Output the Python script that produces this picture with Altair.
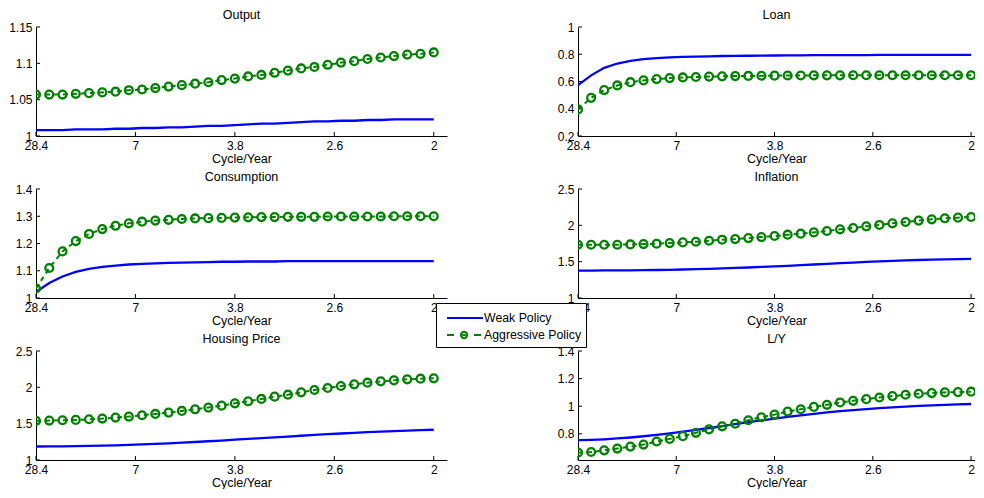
import altair as alt
import pandas as pd

# ---------------- data ----------------
idx = list(range(31))
xtick_pos = [0, 7.5, 15, 22.5, 30]
xtick_labels = ["28.4", "7", "3.8", "2.6", "2"]
series_names = ["Weak Policy", "Aggressive Policy"]

titles = ["Output", "Loan", "Consumption", "Inflation", "Housing Price", "L/Y"]

output_weak = [1.008, 1.008, 1.008, 1.009, 1.009, 1.009, 1.010, 1.010, 1.011, 1.011,
               1.012, 1.012, 1.013, 1.014, 1.014, 1.015, 1.016, 1.017, 1.017, 1.018,
               1.019, 1.020, 1.020, 1.021, 1.021, 1.022, 1.022, 1.023, 1.023, 1.023, 1.023]
output_aggr = [1.057, 1.057, 1.057, 1.058, 1.059, 1.060, 1.061, 1.063, 1.064, 1.066,
               1.068, 1.070, 1.072, 1.074, 1.077, 1.079, 1.082, 1.084, 1.087, 1.090,
               1.093, 1.095, 1.098, 1.101, 1.103, 1.106, 1.108, 1.110, 1.112, 1.113, 1.115]

loan_weak = [0.573, 0.645, 0.700, 0.732, 0.752, 0.764, 0.772, 0.777, 0.780, 0.783,
             0.785, 0.787, 0.788, 0.789, 0.790, 0.791, 0.792, 0.792, 0.793, 0.793,
             0.794, 0.794, 0.794, 0.795, 0.795, 0.795, 0.795, 0.795, 0.795, 0.795, 0.795]
loan_aggr = [0.395, 0.480, 0.537, 0.571, 0.595, 0.608, 0.618, 0.625, 0.630, 0.633,
             0.636, 0.638, 0.640, 0.641, 0.642, 0.643, 0.644, 0.644, 0.645, 0.645,
             0.645, 0.646, 0.646, 0.646, 0.646, 0.646, 0.646, 0.646, 0.646, 0.646, 0.646]

cons_weak = [1.022, 1.055, 1.079, 1.096, 1.107, 1.114, 1.119, 1.123, 1.125, 1.127,
             1.129, 1.130, 1.131, 1.132, 1.133, 1.133, 1.134, 1.134, 1.134, 1.135,
             1.135, 1.135, 1.135, 1.135, 1.135, 1.135, 1.135, 1.135, 1.135, 1.135, 1.135]
cons_aggr = [1.035, 1.110, 1.171, 1.209, 1.235, 1.253, 1.265, 1.274, 1.280, 1.284,
             1.287, 1.290, 1.292, 1.293, 1.294, 1.295, 1.296, 1.297, 1.297, 1.298,
             1.298, 1.298, 1.299, 1.299, 1.299, 1.299, 1.299, 1.300, 1.300, 1.300, 1.300]

infl_weak = [1.378, 1.378, 1.379, 1.380, 1.381, 1.383, 1.385, 1.388, 1.392, 1.397,
             1.402, 1.408, 1.414, 1.420, 1.427, 1.434, 1.443, 1.452, 1.461, 1.470,
             1.479, 1.488, 1.496, 1.504, 1.511, 1.517, 1.523, 1.528, 1.532, 1.536, 1.539]
infl_aggr = [1.733, 1.733, 1.733, 1.733, 1.737, 1.742, 1.747, 1.756, 1.765, 1.774,
             1.788, 1.802, 1.811, 1.825, 1.839, 1.853, 1.871, 1.885, 1.903, 1.922,
             1.945, 1.963, 1.986, 2.005, 2.028, 2.046, 2.065, 2.083, 2.097, 2.106, 2.115]

house_weak = [1.186, 1.187, 1.188, 1.190, 1.193, 1.197, 1.202, 1.208, 1.215, 1.222,
              1.230, 1.239, 1.248, 1.258, 1.268, 1.279, 1.290, 1.301, 1.312, 1.323,
              1.334, 1.345, 1.355, 1.365, 1.374, 1.383, 1.391, 1.398, 1.405, 1.411, 1.416]
house_aggr = [1.538, 1.543, 1.547, 1.552, 1.561, 1.570, 1.584, 1.597, 1.616, 1.634,
              1.652, 1.675, 1.698, 1.721, 1.748, 1.780, 1.808, 1.840, 1.872, 1.899,
              1.931, 1.963, 1.991, 2.018, 2.041, 2.064, 2.082, 2.096, 2.110, 2.119, 2.124]

ly_weak = [0.754, 0.756, 0.760, 0.766, 0.773, 0.782, 0.792, 0.803, 0.815, 0.828,
           0.842, 0.856, 0.870, 0.884, 0.897, 0.910, 0.922, 0.934, 0.945, 0.955,
           0.964, 0.972, 0.979, 0.986, 0.992, 0.997, 1.002, 1.006, 1.010, 1.013, 1.016]
ly_aggr = [0.663, 0.668, 0.680, 0.693, 0.707, 0.722, 0.744, 0.763, 0.783, 0.807,
           0.832, 0.854, 0.873, 0.898, 0.920, 0.939, 0.961, 0.978, 0.995, 1.010,
           1.027, 1.039, 1.051, 1.063, 1.073, 1.083, 1.090, 1.095, 1.100, 1.102, 1.105]

y_domains = [[1, 1.15], [0.2, 1], [1, 1.4], [1, 2.5], [1, 2.5], [0.61, 1.4]]
y_ticks = [[1, 1.05, 1.1, 1.15], [0.2, 0.4, 0.6, 0.8, 1], [1, 1.1, 1.2, 1.3, 1.4],
           [1, 1.5, 2, 2.5], [1, 1.5, 2, 2.5], [0.8, 1, 1.2, 1.4]]
weak_all = [output_weak, loan_weak, cons_weak, infl_weak, house_weak, ly_weak]
aggr_all = [output_aggr, loan_aggr, cons_aggr, infl_aggr, house_aggr, ly_aggr]

# ---------------- style ----------------
FONT = "Liberation Sans"
BLUE = "#0000ff"
GREEN = "#008000"
H = 109
W_LEFT, XDOM_LEFT = 411, [0, 31]
W_RIGHT, XDOM_RIGHT = 397, [0, 30.3]

label_expr = "[" + ",".join("'%s'" % s for s in xtick_labels) + "][indexof([" + \
    ",".join(str(v) for v in xtick_pos) + "], datum.value)]"

# legend glyphs (custom symbol paths, unit = 7px)
legend_paths = [
    "M-0.14,0L4.99,0",
    "M-0.14,0L0.86,0M2.74,0A0.45,0.45,0,1,1,1.84,0A0.45,0.45,0,1,1,2.74,0"
    "M2.04,0L2.54,0M3.71,0L4.71,0",
]


def panel(k, legend=False):
    left = (k % 2 == 0)
    width = W_LEFT if left else W_RIGHT
    xdom = XDOM_LEFT if left else XDOM_RIGHT
    df = pd.DataFrame({"i": idx, "weak": weak_all[k], "aggr": aggr_all[k]})
    xs = alt.Scale(domain=xdom, nice=False, zero=False)
    ys = alt.Scale(domain=y_domains[k], nice=False, zero=False)
    xax = alt.Axis(values=xtick_pos, labelExpr=label_expr, title="Cycle/Year",
                   ticks=False, grid=False, labelPadding=4, titlePadding=1,
                   labelFlush=False)
    yax = alt.Axis(values=y_ticks[k], format="~g", title=None, ticks=False,
                   grid=False, labelPadding=4)
    base = alt.Chart(df)
    x = alt.X("i:Q", scale=xs, axis=xax)
    blue = base.mark_line(color=BLUE, strokeWidth=2.3, clip=True).encode(
        x=x, y=alt.Y("weak:Q", scale=ys, axis=yax))
    gline = base.mark_line(color=GREEN, strokeWidth=2, strokeDash=[5, 4], clip=True).encode(
        x=x, y=alt.Y("aggr:Q", scale=ys, axis=yax))
    gpts = base.mark_point(color=GREEN, size=62, strokeWidth=2.3, filled=False,
                           opacity=1, clip=True).encode(
        x=x, y=alt.Y("aggr:Q", scale=ys, axis=yax))
    yt = alt.Chart(pd.DataFrame({"t": y_ticks[k]})).mark_rule(
        color="black", strokeWidth=1).encode(
        y=alt.Y("t:Q", scale=ys, axis=yax), x=alt.value(0), x2=alt.value(4))
    xt = alt.Chart(pd.DataFrame({"t": xtick_pos})).mark_rule(
        color="black", strokeWidth=1).encode(
        x=alt.X("t:Q", scale=xs, axis=xax), y=alt.value(H), y2=alt.value(H - 4))
    layers = [yt, xt, blue, gline, gpts]
    if legend:
        leg = alt.Legend(title=" ", titleFontSize=2, titlePadding=1,
                         orient="none", legendX=400, legendY=276,
                         symbolSize=196, symbolStrokeWidth=2, symbolOpacity=1,
                         symbolFillColor="transparent",
                         labelFont=FONT, labelFontSize=12.3, labelColor="black",
                         labelOffset=28, rowPadding=2, padding=4,
                         strokeColor="black", fillColor="white", cornerRadius=0)
        ldf = pd.DataFrame({"series": series_names})
        lg = alt.Chart(ldf).mark_point(opacity=0, filled=False, strokeWidth=2).encode(
            shape=alt.Shape("series:N", scale=alt.Scale(domain=series_names, range=legend_paths),
                            legend=leg, sort=series_names),
            color=alt.Color("series:N", scale=alt.Scale(domain=series_names, range=[BLUE, GREEN]),
                            legend=leg, sort=series_names),
        )
        layers.append(lg)
    return alt.layer(*layers).properties(
        width=width, height=H,
        title=alt.TitleParams(titles[k], anchor="middle", frame="group", offset=0,
                              fontSize=12.5, font=FONT, fontWeight="normal", color="black"),
    )


charts = [panel(k, legend=(k == 2)) for k in range(6)]

chart = alt.concat(*charts, columns=2,
                   spacing=alt.RowColnumber(row=5, column=110)).properties(
    padding={"left": 0, "top": 0, "right": 0, "bottom": 0}
).configure_view(stroke=None).configure_axis(
    domainColor="black", domainWidth=1, labelFont=FONT, labelFontSize=12,
    labelColor="black", titleFont=FONT, titleFontSize=12.5, titleFontWeight="normal",
    titleColor="black",
)

chart.save("out.html", embed_options={"renderer": "svg", "actions": False})
